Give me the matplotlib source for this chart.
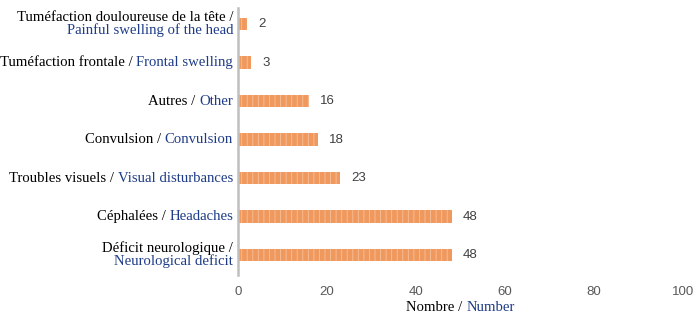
import matplotlib
matplotlib.use("Agg")
import matplotlib.pyplot as plt
import matplotlib.transforms as mtransforms

# données (de haut en bas)
labels_fr = ["Tuméfaction douloureuse de la tête /", "Tuméfaction frontale /", "Autres /",
             "Convulsion /", "Troubles visuels /", "Céphalées /", "Déficit neurologique /"]
labels_en = ["Painful swelling of the head", "Frontal swelling", "Other",
             "Convulsion", "Visual disturbances", "Headaches", "Neurological deficit"]
two_lines = [True, False, False, False, False, False, True]
values = [2, 3, 16, 18, 23, 48, 48]
xticks = [0, 20, 40, 60, 80, 100]

BLUE = "#1F3C88"
SERIF = ["Liberation Serif", "DejaVu Serif"]
FS = 10.6


def main():
    plt.rcParams["hatch.linewidth"] = 0.6
    fig = plt.figure(figsize=(6.95, 3.14), dpi=100)
    ax = fig.add_axes([0.3424, 0.124, 0.6403, 0.851])

    n = len(values)
    ypos = [n - 1 - i for i in range(n)]
    ax.barh(ypos, values, height=0.33, color="#F0995F", edgecolor="#F7C09A",
            linewidth=0, hatch="|||")

    for y, v in zip(ypos, values):
        ax.annotate(str(v), xy=(v, y), xytext=(8, 0), textcoords="offset points",
                    va="center", ha="left", fontsize=9.5, color="#404040",
                    family="Liberation Sans")

    ax.set_xlim(0, 100)
    ax.set_ylim(-0.52, n - 1 + 0.42)
    ax.set_xticks(xticks)
    ax.set_xticklabels([str(t) for t in xticks], color="#595959", fontsize=9.5,
                       family="Liberation Sans")
    ax.set_yticks([])
    ax.tick_params(axis="x", length=0, pad=8)
    for s in ["top", "right", "bottom"]:
        ax.spines[s].set_visible(False)
    ax.spines["left"].set_color("#BFBFBF")
    ax.spines["left"].set_linewidth(1.8)

    # étiquettes bicolores
    trans = mtransforms.blended_transform_factory(ax.transAxes, ax.transData)
    fig.canvas.draw()
    renderer = fig.canvas.get_renderer()
    for y, fr, en, two in zip(ypos, labels_fr, labels_en, two_lines):
        if two:
            ax.text(-0.011, y + 0.01, fr, transform=trans, ha="right", va="bottom",
                    fontsize=FS, family=SERIF, color="black")
            ax.text(-0.011, y + 0.01, en, transform=trans, ha="right", va="top",
                    fontsize=FS, family=SERIF, color=BLUE)
        else:
            t = ax.text(-0.011, y, en, transform=trans, ha="right", va="center",
                        fontsize=FS, family=SERIF, color=BLUE)
            w = t.get_window_extent(renderer).width * 72 / fig.dpi
            ax.annotate(fr + " ", xy=(-0.011, y), xycoords=trans,
                        xytext=(-w, 0), textcoords="offset points",
                        ha="right", va="center", fontsize=FS, family=SERIF,
                        color="black")

    # titre de l'axe x bicolore
    fr_t = fig.text(0, 0, "Nombre / ", fontsize=FS, family=SERIF, color="black")
    en_t = fig.text(0, 0, "Number", fontsize=FS, family=SERIF, color=BLUE)
    wf = fr_t.get_window_extent(renderer).width / (fig.dpi * 6.95)
    we = en_t.get_window_extent(renderer).width / (fig.dpi * 6.95)
    cx = 0.3424 + 0.6403 * 0.5
    x0 = cx - (wf + we) / 2
    fr_t.set_position((x0, 0.01))
    en_t.set_position((x0 + wf, 0.01))

    fig.savefig("out.png", dpi=100)


if __name__ == "__main__":
    main()
